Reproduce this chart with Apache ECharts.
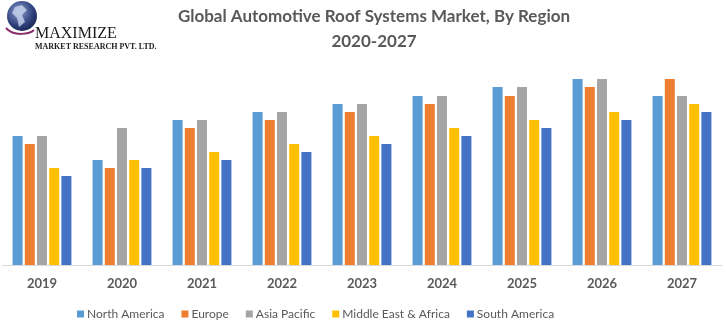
<!DOCTYPE html>
<html>
<head>
<meta charset="utf-8">
<script src="https://cdn.jsdelivr.net/npm/echarts@6/dist/echarts.min.js"></script>
<style>html,body{margin:0;padding:0;background:#fff}#c{width:726px;height:325px}</style>
</head>
<body>
<div id="c"></div>
<script>
var categories = ['2019','2020','2021','2022','2023','2024','2025','2026','2027'];
var seriesNames = ['North America','Europe','Asia Pacific','Middle East & Africa','South America'];
var northAmerica = [129,105,145,153,161,169,178,186,169];
var europe       = [121, 97,137,145,153,161,169,178,186];
var asiaPacific  = [129,137,145,153,161,169,178,186,169];
var middleEast   = [ 97,105,113,121,129,137,145,153,161];
var southAmerica = [ 89, 97,105,113,121,129,137,145,153];
var colors = ['#5B9BD5','#ED7D31','#A5A5A5','#FFC000','#4472C4'];
var values = [northAmerica, europe, asiaPacific, middleEast, southAmerica];

var chart = echarts.init(document.getElementById('c'), null, {renderer:'canvas'});
var font = 'Lato, "Open Sans", sans-serif';
chart.setOption({
  animation:false,
  color: colors,
  grid:{left:2, right:4, top:60, bottom:60, containLabel:false},
  xAxis:{type:'category', data:categories,
    axisLine:{lineStyle:{color:'#d9d9d9', width:1}},
    axisTick:{show:false},
    axisLabel:{color:'#595959', fontWeight:'bold', fontSize:13, fontFamily:font, margin:12}},
  yAxis:{type:'value', min:0, max:205, show:false, splitLine:{show:false}},
  legend:{left:77, top:308, padding:0, itemWidth:7, itemHeight:7, itemGap:17, icon:'rect',
    textStyle:{color:'#595959', fontSize:12, fontFamily:font, padding:[0,0,0,-2]},
    data:seriesNames},
  series: seriesNames.map(function(n,i){
    return {name:n, type:'bar', data:values[i], barWidth:10, barGap:'22%'};
  }),
  graphic:[
    {type:'text', x:374, y:17, style:{text:'Global Automotive Roof Systems Market, By Region', align:'center', verticalAlign:'middle', fill:'#595959', font:'bold 17px '+font}},
    {type:'text', x:374, y:42, style:{text:'2020-2027', align:'center', verticalAlign:'middle', fill:'#595959', font:'bold 17px '+font}},
    // logo globe
    {type:'circle', shape:{cx:22, cy:16, r:15}, style:{fill:new echarts.graphic.RadialGradient(0.4,0.35,0.8,[{offset:0,color:'#8a9bcf'},{offset:0.6,color:'#2c3f7a'},{offset:1,color:'#111a3d'}])}},
    {type:'polygon', shape:{points:[[15,7],[22,5],[27,10],[22,15],[25,22],[19,27],[17,18],[12,13]]}, style:{fill:'#c8d3ec', opacity:0.8}},
    {type:'bezierCurve', shape:{x1:6, y1:28, x2:34, y2:30, cpx1:14, cpy1:37, cpx2:30, cpy2:34}, style:{stroke:'#8a2f6e', lineWidth:2, fill:null}},
    {type:'text', x:35, y:34, style:{text:'MAXIMIZE', fill:'#1a1a1a', font:'16px "Liberation Serif", "DejaVu Serif", serif', verticalAlign:'middle'}},
    {type:'text', x:35, y:47, style:{text:'MARKET RESEARCH PVT. LTD.', fill:'#1a1a1a', font:'bold 8px "Liberation Serif", "DejaVu Serif", serif', verticalAlign:'middle'}}
  ]
});
</script>
</body>
</html>
